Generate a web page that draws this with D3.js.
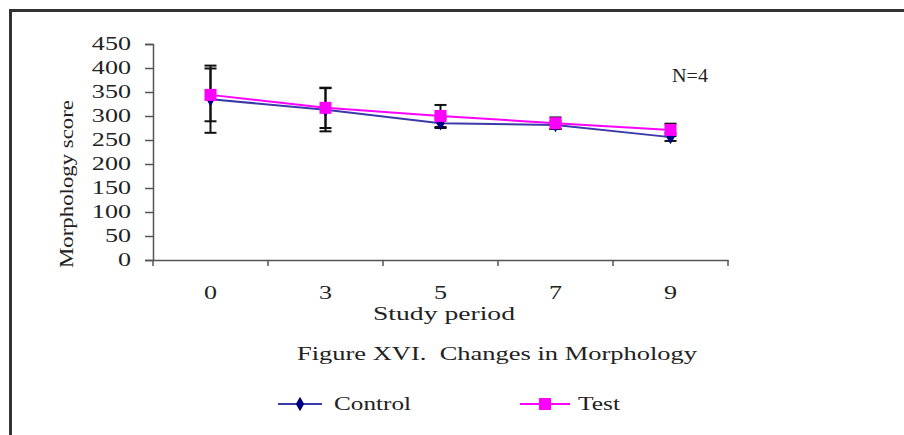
<!DOCTYPE html>
<html>
<head>
<meta charset="utf-8">
<script src="https://cdn.jsdelivr.net/npm/d3@7"></script>
<style>
  body { margin: 0; background: #fff; }
</style>
</head>
<body>
<div id="container"></div>
<script>
// chart data
let periods = ["0", "3", "5", "7", "9"];
let controlMean = [335, 313, 285, 281, 256];
let controlErr = [70, 45, 10, 8, 8];
let testMean = [344, 317, 300, 285, 271];
let testErr = [55, 42, 23, 12, 13];
let yTicks = [0, 50, 100, 150, 200, 250, 300, 350, 400, 450];

let width = 904, height = 435;
let serif = '"Liberation Serif", "Times New Roman", "DejaVu Serif", serif';
let stretch = 1.45;   // the source lettering is wide

let svg = d3.select('#container').append('svg')
    .attr('width', width)
    .attr('height', height)
    .attr('font-family', serif);

// widen a text selection horizontally, either to a given length or by the stretch factor
function widen(sel, len) {
    sel.each(function() {
        let w = len || this.getComputedTextLength() * stretch;
        d3.select(this).attr('textLength', w).attr('lengthAdjust', 'spacingAndGlyphs');
    });
}

// outer frame (runs off the right and bottom edges)
svg.append('rect')
    .attr('x', 10.5).attr('y', 10.5)
    .attr('width', 910).attr('height', 440)
    .attr('fill', 'none')
    .attr('stroke', '#333')
    .attr('stroke-width', 3);

let x = d3.scaleBand().domain(periods).range([153, 728]);
let y = d3.scaleLinear().domain([0, 450]).range([260, 44]);

// y axis
let yAxis = svg.append('g')
    .attr('transform', 'translate(153,0)')
    .call(d3.axisLeft(y).tickValues(yTicks).tickSize(8).tickPadding(14));
yAxis.attr('font-family', serif);
yAxis.select('.domain').attr('stroke', '#555').attr('stroke-width', 1.5);
yAxis.selectAll('.tick line').attr('stroke', '#555').attr('stroke-width', 1.5);
yAxis.selectAll('.tick text').attr('font-size', 18).attr('fill', '#222')
    .style('font-family', serif).call(widen);

// x axis
let xAxis = svg.append('g')
    .attr('transform', 'translate(0,260)')
    .call(d3.axisBottom(x).tickSize(0).tickPadding(26));
xAxis.attr('font-family', serif);
xAxis.select('.domain').attr('stroke', '#555').attr('stroke-width', 1.5);
xAxis.selectAll('.tick text').attr('font-size', 18).attr('fill', '#222')
    .style('font-family', serif).call(widen);
// tick marks on band boundaries
let bounds = periods.map(p => x(p)).concat([x.range()[1]]);
svg.append('g').selectAll('line')
    .data(bounds)
    .join('line')
    .attr('x1', d => d).attr('x2', d => d)
    .attr('y1', 260).attr('y2', 266)
    .attr('stroke', '#555').attr('stroke-width', 1.5);

let cx = p => x(p) + x.bandwidth() / 2;

// error bars
function errorBars(mean, err) {
    let g = svg.append('g').attr('stroke', '#111').attr('stroke-width', 2);
    periods.forEach((p, i) => {
        let xc = cx(p);
        let top = y(mean[i] + err[i]), bot = y(mean[i] - err[i]);
        g.append('line').attr('x1', xc).attr('x2', xc).attr('y1', top).attr('y2', bot);
        g.append('line').attr('x1', xc - 6).attr('x2', xc + 6).attr('y1', top).attr('y2', top);
        g.append('line').attr('x1', xc - 6).attr('x2', xc + 6).attr('y1', bot).attr('y2', bot);
    });
}
errorBars(controlMean, controlErr);
errorBars(testMean, testErr);

let line = d3.line().x((d, i) => cx(periods[i])).y(d => y(d));

// control series
svg.append('path')
    .datum(controlMean)
    .attr('d', line)
    .attr('fill', 'none')
    .attr('stroke', '#3a3aa8')
    .attr('stroke-width', 2);
svg.append('g').selectAll('path')
    .data(controlMean)
    .join('path')
    .attr('d', d3.symbol(d3.symbolDiamond, 60))
    .attr('transform', (d, i) => `translate(${cx(periods[i])},${y(d)})`)
    .attr('fill', '#000080');

// test series
svg.append('path')
    .datum(testMean)
    .attr('d', line)
    .attr('fill', 'none')
    .attr('stroke', '#ff00ff')
    .attr('stroke-width', 2);
svg.append('g').selectAll('rect')
    .data(testMean)
    .join('rect')
    .attr('x', (d, i) => cx(periods[i]) - 6)
    .attr('y', d => y(d) - 6)
    .attr('width', 12).attr('height', 12)
    .attr('fill', '#ff00ff');

// labels
function label(px, py, str, len, anchor) {
    return svg.append('text')
        .attr('x', px).attr('y', py)
        .attr('text-anchor', anchor || 'start')
        .attr('font-size', 18)
        .attr('fill', '#222')
        .style('font-family', serif)
        .text(str)
        .call(widen, len);
}

label(0, 0, 'Morphology score', 168, 'middle')
    .attr('transform', 'translate(73,184) rotate(-90)');
label(444, 320, 'Study period', 142, 'middle');
label(672, 82, 'N=4', 36);
label(497, 360, 'Figure XVI.  Changes in Morphology', 400, 'middle')
    .attr('xml:space', 'preserve');

// legend
let legend = svg.append('g');
legend.append('line').attr('x1', 278).attr('x2', 322).attr('y1', 404).attr('y2', 404)
    .attr('stroke', '#3a3aa8').attr('stroke-width', 2);
legend.append('path').attr('d', d3.symbol(d3.symbolDiamond, 60))
    .attr('transform', 'translate(300,404)').attr('fill', '#000080');
label(334, 410, 'Control', 77);

legend.append('line').attr('x1', 520).attr('x2', 570).attr('y1', 404).attr('y2', 404)
    .attr('stroke', '#ff00ff').attr('stroke-width', 2);
legend.append('rect').attr('x', 539).attr('y', 398).attr('width', 12).attr('height', 12)
    .attr('fill', '#ff00ff');
label(578, 410, 'Test', 42);
</script>
</body>
</html>
